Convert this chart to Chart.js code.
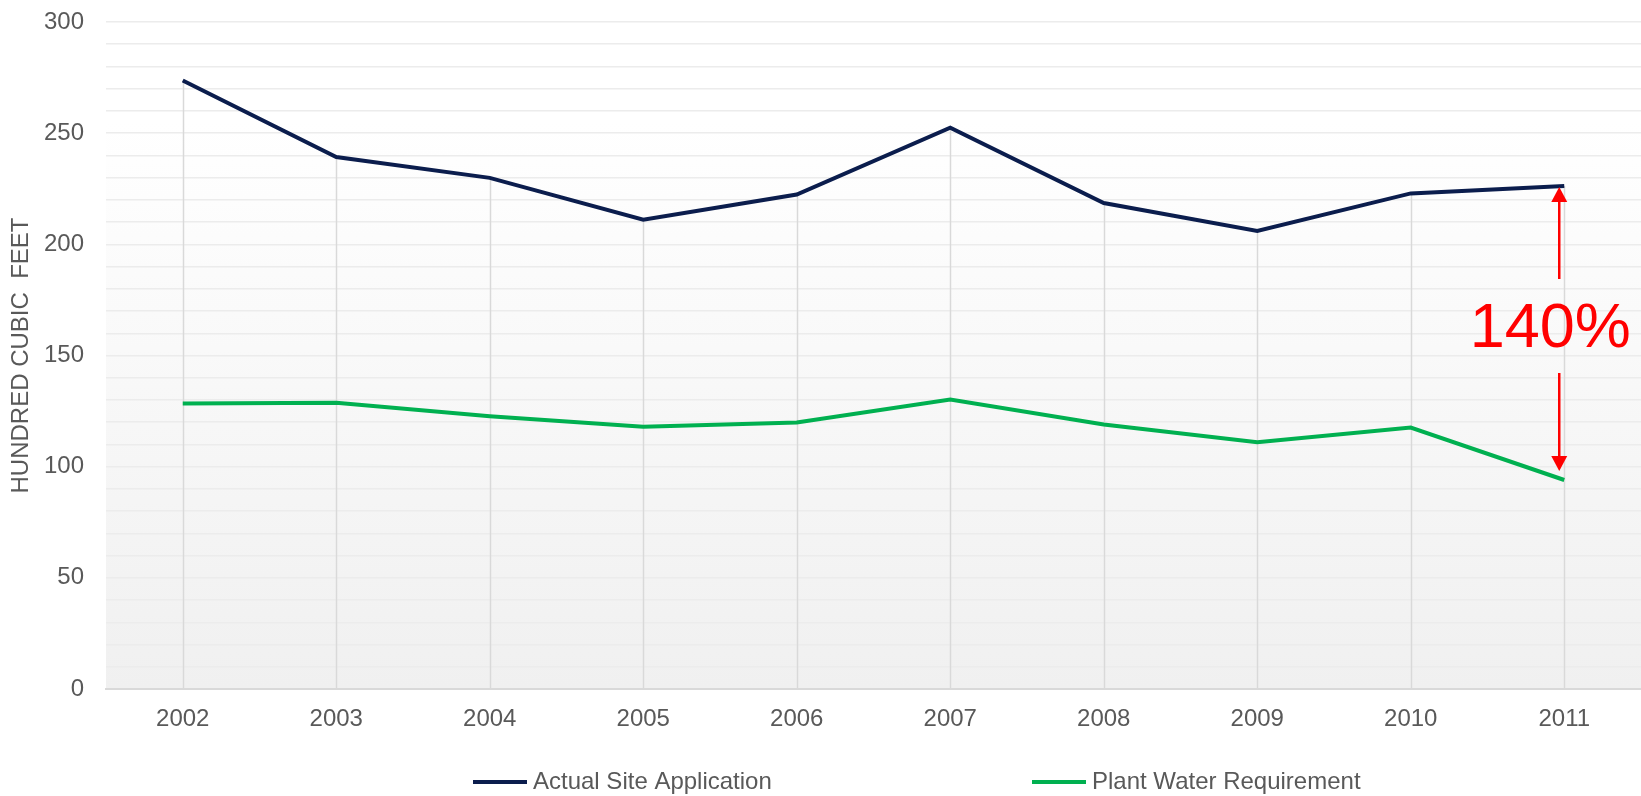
<!DOCTYPE html>
<html>
<head>
<meta charset="utf-8">
<title>Actual Site Application vs Plant Water Requirement</title>
<script src="https://cdn.jsdelivr.net/npm/chart.js@4/dist/chart.umd.min.js"></script>
<style>
  html, body { margin: 0; padding: 0; background: #fff; }
  #wrap { position: relative; width: 1641px; height: 796px; }
</style>
</head>
<body>
<div id="wrap"><canvas id="waterChart"></canvas></div>
<script>
const years = ['2002', '2003', '2004', '2005', '2006', '2007', '2008', '2009', '2010', '2011'];
const actualSite = [273.7, 239.3, 229.9, 211.1, 222.4, 252.5, 218.6, 206.0, 222.9, 226.2];
const plantWater = [128.4, 128.8, 122.7, 118.0, 119.9, 130.2, 119.0, 111.0, 117.6, 94.0];
const yTickLabels = [0, 50, 100, 150, 200, 250, 300];
const seriesNames = ['Actual Site Application', 'Plant Water Requirement'];
const seriesColors = ['#0b1d4d', '#00b050'];
const gapLabel = '140%';

const textColor = '#595959';
const fontFamily = '"Liberation Sans", Arial, sans-serif';

// gradient behind the plot area
const plotBackground = {
  id: 'plotBackground',
  beforeDraw(chart) {
    const { ctx, chartArea: a } = chart;
    const g = ctx.createLinearGradient(0, a.top, 0, a.bottom);
    g.addColorStop(0, '#ffffff');
    g.addColorStop(0.15, '#ffffff');
    g.addColorStop(1, '#f0f0f0');
    ctx.save();
    ctx.fillStyle = g;
    ctx.fillRect(a.left, a.top, a.right - a.left, a.bottom - a.top);
    ctx.restore();
  }
};

// vertical drop lines from the highest point of each year to the axis
const dropLines = {
  id: 'dropLines',
  beforeDatasetsDraw(chart) {
    const { ctx, scales: { x, y } } = chart;
    ctx.save();
    ctx.strokeStyle = '#d9d9d9';
    ctx.lineWidth = 1.5;
    years.forEach((yr, i) => {
      const px = Math.round(x.getPixelForValue(i)) + 0.5;
      const top = Math.max(actualSite[i], plantWater[i]);
      ctx.beginPath();
      ctx.moveTo(px, y.getPixelForValue(top));
      ctx.lineTo(px, y.getPixelForValue(0));
      ctx.stroke();
    });
    ctx.restore();
  }
};

function arrowHead(ctx, x, tipY, dir) {
  ctx.beginPath();
  ctx.moveTo(x, tipY);
  ctx.lineTo(x - 8, tipY + dir * 15);
  ctx.lineTo(x + 8, tipY + dir * 15);
  ctx.closePath();
  ctx.fill();
}

// red double arrow with the percentage between the two 2011 values
const gapAnnotation = {
  id: 'gapAnnotation',
  afterDatasetsDraw(chart) {
    const { ctx, scales: { x, y } } = chart;
    const last = years.length - 1;
    const ax = x.getPixelForValue(last) - 5;
    const yTop = y.getPixelForValue(actualSite[last]) + 1;
    const yBot = y.getPixelForValue(plantWater[last]) - 9;
    const mid = (yTop + yBot) / 2;
    ctx.save();
    ctx.strokeStyle = '#ff0000';
    ctx.fillStyle = '#ff0000';
    ctx.lineWidth = 2.5;
    ctx.beginPath();
    ctx.moveTo(ax, yTop + 12);
    ctx.lineTo(ax, mid - 50);
    ctx.moveTo(ax, mid + 44);
    ctx.lineTo(ax, yBot - 12);
    ctx.stroke();
    arrowHead(ctx, ax, yTop, 1);
    arrowHead(ctx, ax, yBot, -1);
    ctx.font = '63px ' + fontFamily;
    ctx.textAlign = 'center';
    ctx.textBaseline = 'middle';
    ctx.fillText(gapLabel, ax - 9, mid + 1);
    ctx.restore();
  }
};

// legend under the axis, placed like the original
const lineLegend = {
  id: 'lineLegend',
  afterDraw(chart) {
    const { ctx } = chart;
    const starts = [473, 1032];
    const cy = 782;
    ctx.save();
    ctx.font = '24px ' + fontFamily;
    ctx.textBaseline = 'middle';
    ctx.textAlign = 'left';
    chart.data.datasets.forEach((ds, i) => {
      ctx.fillStyle = ds.borderColor;
      ctx.fillRect(starts[i], cy - 2, 54, 4);
      ctx.fillStyle = textColor;
      ctx.fillText(ds.label, starts[i] + 60, cy);
    });
    ctx.restore();
  }
};

Chart.defaults.font.family = fontFamily;
Chart.defaults.color = textColor;

new Chart(document.getElementById('waterChart'), {
  type: 'line',
  data: {
    labels: years,
    datasets: [
      {
        label: seriesNames[0],
        data: actualSite,
        borderColor: seriesColors[0],
        backgroundColor: seriesColors[0],
        borderWidth: 4,
        pointRadius: 0,
        tension: 0
      },
      {
        label: seriesNames[1],
        data: plantWater,
        borderColor: seriesColors[1],
        backgroundColor: seriesColors[1],
        borderWidth: 4,
        pointRadius: 0,
        tension: 0
      }
    ]
  },
  options: {
    responsive: true,
    maintainAspectRatio: false,
    animation: false,
    layout: { padding: { top: 22, right: 0, bottom: 61, left: 0 } },
    scales: {
      x: {
        offset: true,
        grid: { display: false, drawTicks: false },
        border: { display: true, color: '#d9d9d9', width: 2 },
        ticks: { padding: 16, font: { size: 24 }, color: textColor, maxRotation: 0 },
        afterFit: (s) => { s.height = 46; s.paddingLeft = 0; s.paddingRight = 0; }
      },
      y: {
        min: 0,
        max: 300,
        grid: { color: '#ececec', lineWidth: 1.5, drawTicks: false },
        border: { display: false },
        ticks: {
          stepSize: 10,
          padding: 22,
          autoSkip: false,
          font: { size: 24 },
          color: textColor,
          callback: (v) => yTickLabels.includes(v) ? v : ''
        },
        title: {
          display: true,
          text: 'HUNDRED CUBIC  FEET',
          font: { size: 24 },
          color: textColor,
          padding: { top: 7, bottom: 0 }
        },
        afterFit: (s) => { s.width = 106; s.paddingTop = 0; s.paddingBottom = 0; }
      }
    },
    plugins: {
      legend: { display: false },
      tooltip: { enabled: false }
    }
  },
  plugins: [plotBackground, dropLines, gapAnnotation, lineLegend]
});
</script>
</body>
</html>
